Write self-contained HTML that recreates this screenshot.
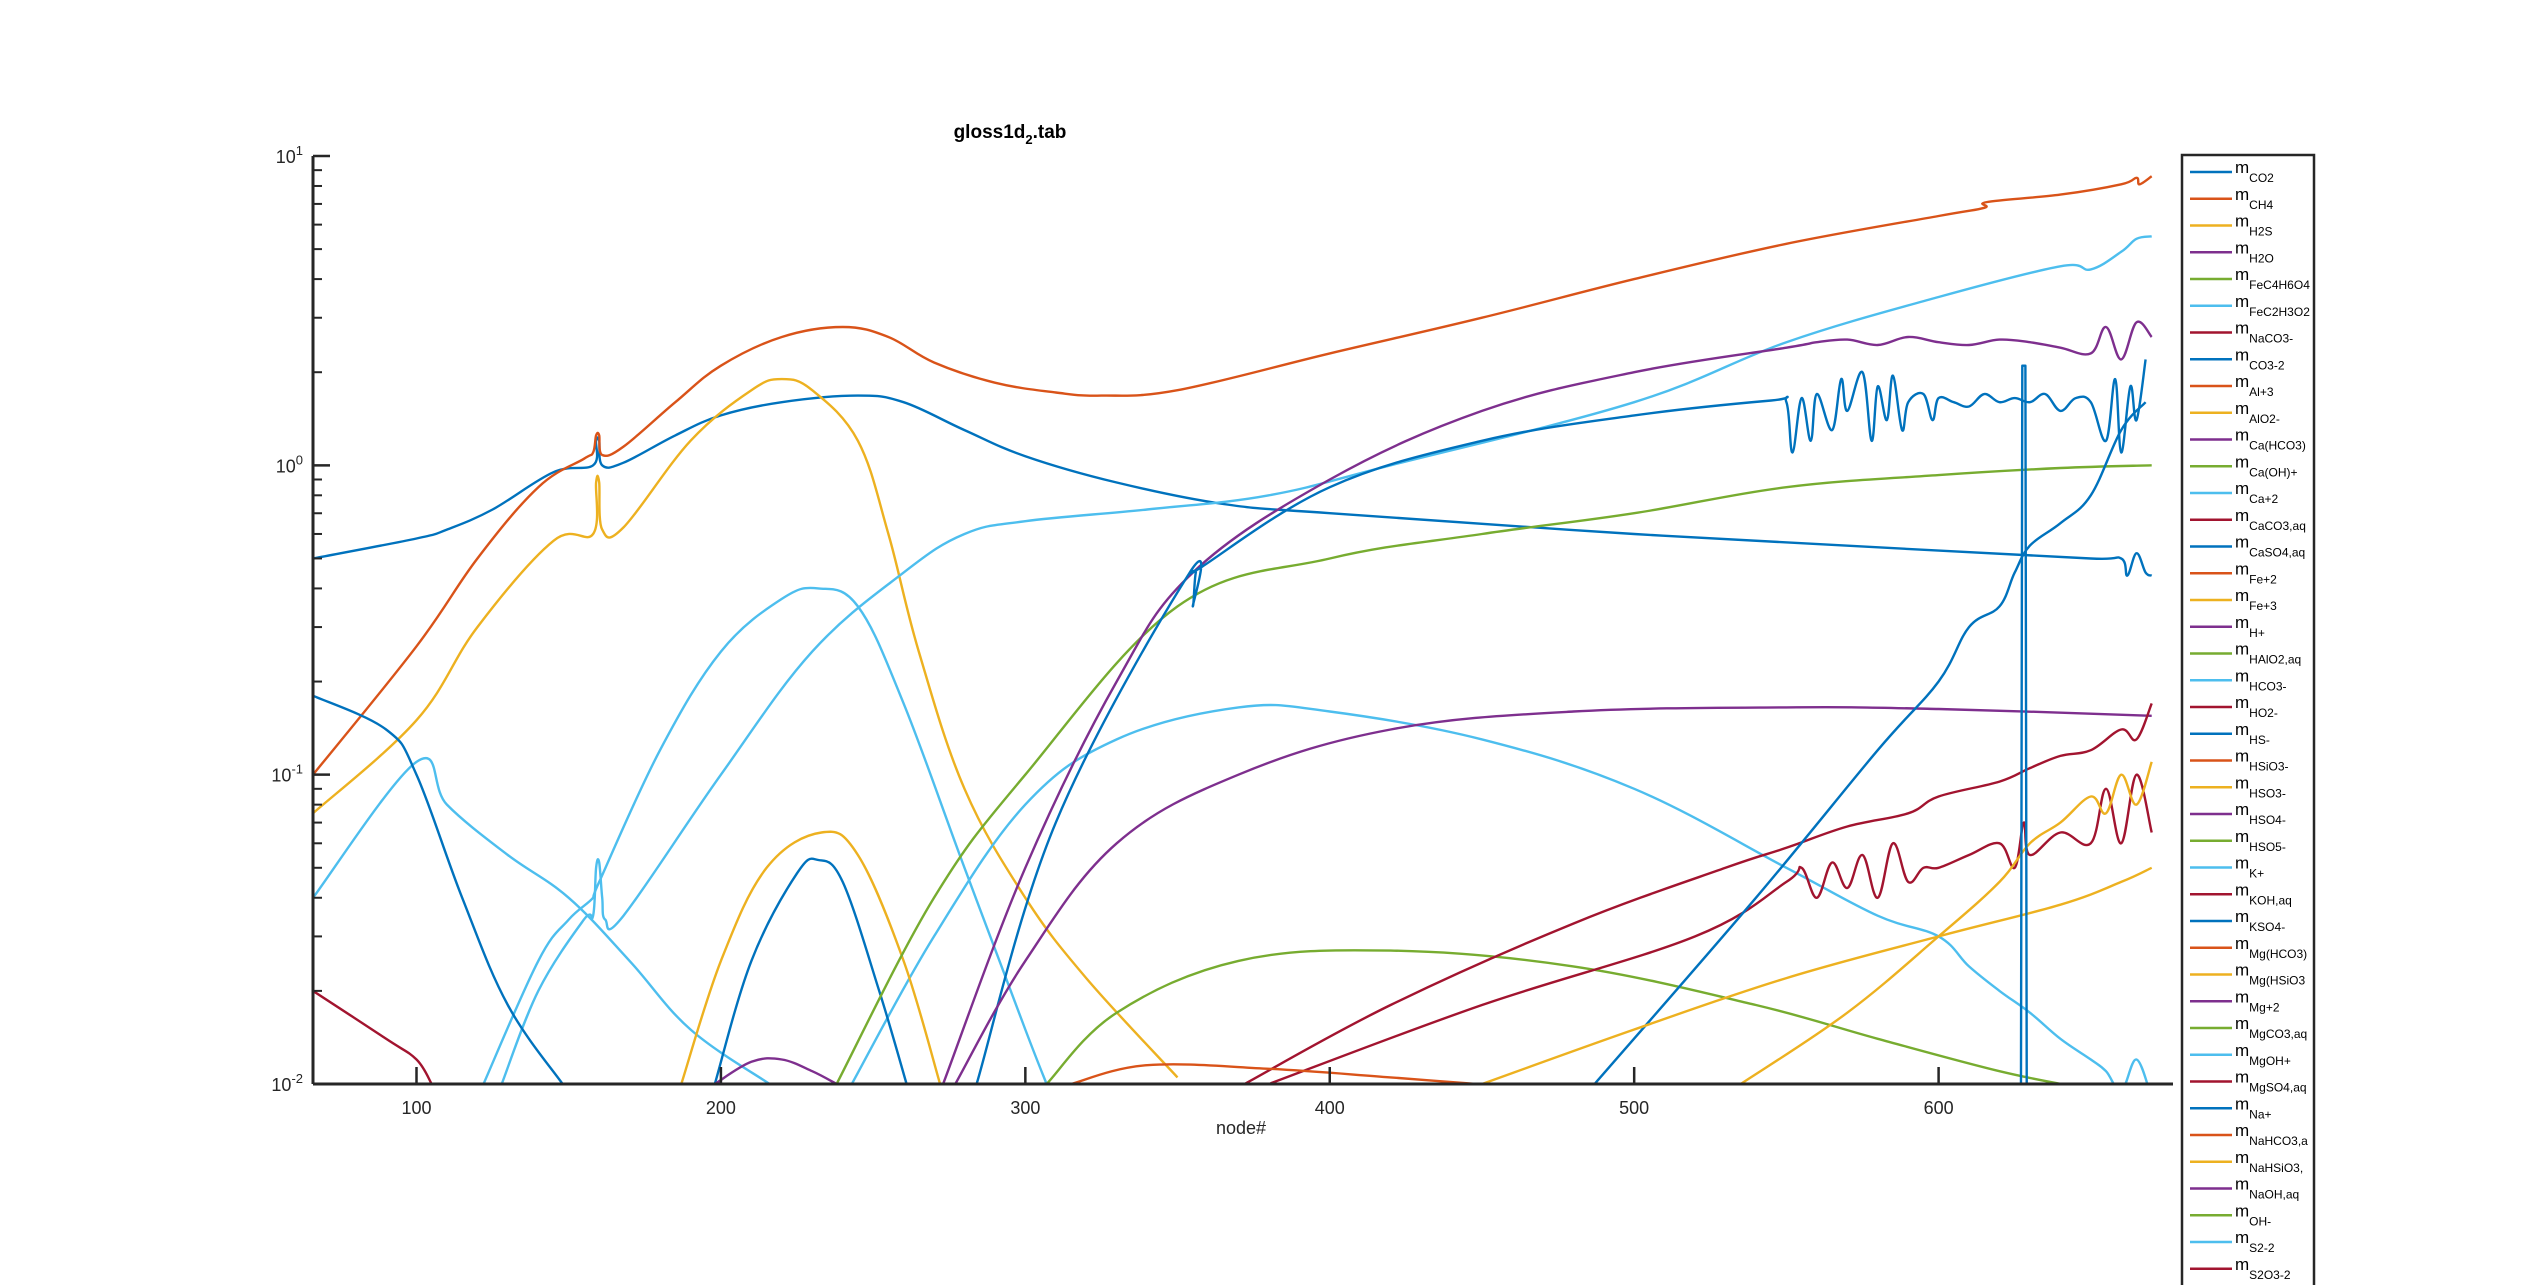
<!DOCTYPE html>
<html><head><meta charset="utf-8"><style>
html,body{margin:0;padding:0;background:#fff}
svg{display:block;font-family:"Liberation Sans",Arial,sans-serif}
</style></head><body>
<svg id="chart" width="2542" height="1285" viewBox="0 0 2542 1285" xmlns="http://www.w3.org/2000/svg">
<rect width="2542" height="1285" fill="#fff"/>
<defs><clipPath id="plotclip"><rect x="313" y="156" width="1860" height="929"/></clipPath></defs>
<text x="1010" y="138" font-size="19" font-weight="bold" text-anchor="middle" fill="#000">gloss1d<tspan font-size="13" dy="6">2</tspan><tspan dy="-6">.tab</tspan></text>
<g id="series" clip-path="url(#plotclip)"></g>
<g id="axes"></g>
<text x="1241" y="1134" font-size="18" text-anchor="middle" fill="#262626">node#</text>
<g id="legend"></g>
</svg>
<script>
const NS="http://www.w3.org/2000/svg";
const xTicks=[100,200,300,400,500,600];
const yDecades=[-2,-1,0,1];
const C=["#0072BD","#D95319","#EDB120","#7E2F8E","#77AC30","#4DBEEE","#A2142F"];

const ch4X=[66,100,120,140,155,158,159,160,161,168,185,200,220,240,255,270,290,310,325,350,400,450,500,550,600,615,616,640,660,665,666,670];
const ch4Y=[0.1,0.26,0.5,0.85,1.05,1.1,1.25,1.25,1.08,1.15,1.6,2.1,2.6,2.8,2.6,2.15,1.85,1.72,1.68,1.75,2.3,3.0,4.0,5.2,6.4,6.8,7.1,7.5,8.1,8.5,8.1,8.6];
const co2X=[66,100,110,125,145,158,159,160,161,168,185,200,220,245,260,280,300,330,365,400,500,600,650,660,662,665,668,670];
const co2Y=[0.5,0.58,0.62,0.72,0.95,1.0,1.2,1.2,1.0,1.02,1.25,1.45,1.6,1.68,1.6,1.3,1.07,0.88,0.75,0.7,0.6,0.53,0.5,0.5,0.44,0.52,0.45,0.44];
const h2sX=[66,100,120,145,158,159,160,161,168,190,210,220,230,245,255,265,280,300,320,350];
const h2sY=[0.075,0.15,0.3,0.57,0.6,0.88,0.88,0.62,0.63,1.2,1.75,1.9,1.75,1.2,0.6,0.25,0.09,0.04,0.022,0.0105];
const lb1X=[128,140,155,158,159,160,161,162,168,200,230,260,280,300,340,380,420,500,550,600,640,650,660,665,670];
const lb1Y=[0.01,0.02,0.034,0.035,0.05,0.052,0.04,0.034,0.035,0.1,0.25,0.45,0.6,0.66,0.72,0.8,1.0,1.6,2.5,3.5,4.4,4.3,4.9,5.4,5.5];
const lb2X=[66,100,110,130,150,170,190,216];
const lb2Y=[0.04,0.11,0.08,0.055,0.04,0.025,0.015,0.01];
const lb3X=[122,140,150,158,160,180,200,220,232,245,260,280,300,307];
const lb3Y=[0.01,0.025,0.034,0.04,0.045,0.12,0.25,0.37,0.4,0.35,0.17,0.05,0.015,0.01];
const lb4X=[243,270,300,330,370,400,450,500,550,580,600,610,620,630,640,650,655,660,665,670];
const lb4Y=[0.01,0.03,0.08,0.13,0.165,0.16,0.13,0.09,0.05,0.035,0.03,0.024,0.02,0.017,0.014,0.012,0.011,0.0095,0.012,0.009];
const co3X=[66,90,100,115,130,148];
const co3Y=[0.18,0.14,0.1,0.04,0.018,0.01];
const y2X=[187,200,215,233,245,260,272];
const y2Y=[0.01,0.025,0.05,0.065,0.055,0.025,0.01];
const b2X=[198,210,225,232,240,252,261];
const b2Y=[0.01,0.025,0.048,0.053,0.045,0.02,0.01];
const g1X=[238,270,300,350,400,450,500,550,600,640,670];
const g1Y=[0.01,0.04,0.1,0.35,0.5,0.6,0.7,0.85,0.93,0.98,1.0];
const g2X=[307,330,370,420,480,540,580,620,645];
const g2Y=[0.01,0.017,0.025,0.027,0.024,0.018,0.014,0.011,0.0098];
const p1X=[273,300,330,355,400,450,500,550,560,570,580,590,600,610,620,630,640,650,655,660,665,670];
const p1Y=[0.01,0.05,0.2,0.45,0.9,1.5,2.0,2.4,2.5,2.55,2.45,2.6,2.5,2.45,2.55,2.5,2.4,2.3,2.8,2.2,2.9,2.6];
const b3X=[284,310,354,355,356,358,400,450,500,545,550,552,555,558,560,565,568,570,575,578,580,583,585,588,590,595,598,600,605,610,615,620,625,630,635,640,645,650,655,658,660,663,665,668];
const b3Y=[0.01,0.07,0.45,0.35,0.45,0.47,0.85,1.2,1.45,1.62,1.6,1.1,1.65,1.2,1.7,1.3,1.9,1.5,2.0,1.2,1.8,1.4,1.95,1.3,1.6,1.7,1.4,1.65,1.6,1.55,1.7,1.6,1.65,1.6,1.7,1.5,1.65,1.6,1.2,1.9,1.1,1.8,1.4,2.2];
const p2X=[277,300,330,370,420,480,550,600,670];
const p2Y=[0.01,0.025,0.06,0.1,0.14,0.16,0.165,0.163,0.155];
const p3X=[198,210,220,230,238];
const p3Y=[0.01,0.0118,0.012,0.011,0.01];
const r1X=[66,90,100,105];
const r1Y=[0.02,0.014,0.012,0.01];
const r2X=[372,420,480,530,550,570,590,600,620,630,640,650,660,665,670];
const r2Y=[0.01,0.018,0.033,0.05,0.058,0.068,0.075,0.085,0.095,0.105,0.115,0.12,0.14,0.13,0.17];
const r3X=[380,450,520,550,555,560,565,570,575,580,585,590,595,600,610,620,625,628,630,640,650,655,660,665,670];
const r3Y=[0.01,0.018,0.03,0.045,0.05,0.04,0.052,0.043,0.055,0.04,0.06,0.045,0.05,0.05,0.055,0.06,0.05,0.07,0.055,0.065,0.06,0.09,0.06,0.1,0.065];
const b4X=[487,540,580,600,610,620,625,630,640,650,660,668];
const b4Y=[0.01,0.04,0.12,0.2,0.3,0.35,0.45,0.55,0.65,0.8,1.3,1.6];
const y3X=[450,500,550,600,640,660,670];
const y3Y=[0.01,0.015,0.022,0.03,0.038,0.045,0.05];
const y4X=[535,570,600,620,630,640,650,655,660,665,670];
const y4Y=[0.01,0.017,0.03,0.045,0.06,0.07,0.085,0.075,0.1,0.08,0.11];
const o2X=[315,340,380,420,460];
const o2Y=[0.01,0.0115,0.0112,0.0105,0.0098];
const spX=[627,627.5,628.5,629];
const spY=[0.005,2.1,2.1,0.005];

const series=[
 {n:'co2',x:co2X,y:co2Y,c:0},{n:'ch4',x:ch4X,y:ch4Y,c:1},{n:'h2s',x:h2sX,y:h2sY,c:2},
 {n:'ca2',x:lb1X,y:lb1Y,c:5},{n:'fec2h3o2',x:lb2X,y:lb2Y,c:5},{n:'hco3',x:lb3X,y:lb3Y,c:5},
 {n:'mgoh',x:lb4X,y:lb4Y,c:5},{n:'co3-2',x:co3X,y:co3Y,c:0},{n:'alo2',x:y2X,y:y2Y,c:2},
 {n:'hs',x:b2X,y:b2Y,c:0},{n:'caoh',x:g1X,y:g1Y,c:4},{n:'hso5',x:g2X,y:g2Y,c:4},
 {n:'cahco3',x:p1X,y:p1Y,c:3},{n:'caso4',x:b3X,y:b3Y,c:0},{n:'h-plus',x:p2X,y:p2Y,c:3},
 {n:'h2o',x:p3X,y:p3Y,c:3},{n:'naco3',x:r1X,y:r1Y,c:6},{n:'ho2',x:r2X,y:r2Y,c:6},
 {n:'koh',x:r3X,y:r3Y,c:6},{n:'na-plus',x:b4X,y:b4Y,c:0},{n:'fe3',x:y3X,y:y3Y,c:2},
 {n:'hso3',x:y4X,y:y4Y,c:2},{n:'al3',x:o2X,y:o2Y,c:1},{n:'kso4-spike',x:spX,y:spY,c:0,straight:true}
];
const legendNames=["CO2","CH4","H2S","H2O","FeC4H6O4","FeC2H3O2","NaCO3-","CO3-2","Al+3","AlO2-","Ca(HCO3)","Ca(OH)+","Ca+2","CaCO3,aq","CaSO4,aq","Fe+2","Fe+3","H+","HAlO2,aq","HCO3-","HO2-","HS-","HSiO3-","HSO3-","HSO4-","HSO5-","K+","KOH,aq","KSO4-","Mg(HCO3)","Mg(HSiO3","Mg+2","MgCO3,aq","MgOH+","MgSO4,aq","Na+","NaHCO3,a","NaHSiO3,","NaOH,aq","OH-","S2-2","S2O3-2","SO4-2"];

const X0=313,X1=2173,Y0=1084,Y1=156,XMIN=66,XMAX=677,LMIN=-2,LMAX=1;
const sx=v=>X0+(v-XMIN)/(XMAX-XMIN)*(X1-X0);
const sy=v=>Y0-(Math.log10(v)-LMIN)/(LMAX-LMIN)*(Y0-Y1);

function smoothPath(pts){
 if(pts.length<3) return 'M'+pts.map(p=>p[0].toFixed(1)+','+p[1].toFixed(1)).join('L');
 let d='M'+pts[0][0].toFixed(1)+','+pts[0][1].toFixed(1);
 const t=0.18;
 for(let i=0;i<pts.length-1;i++){
  const p0=pts[Math.max(0,i-1)],p1=pts[i],p2=pts[i+1],p3=pts[Math.min(pts.length-1,i+2)];
  const c1=[p1[0]+(p2[0]-p0[0])*t,p1[1]+(p2[1]-p0[1])*t];
  const c2=[p2[0]-(p3[0]-p1[0])*t,p2[1]-(p3[1]-p1[1])*t];
  d+='C'+c1[0].toFixed(1)+','+c1[1].toFixed(1)+' '+c2[0].toFixed(1)+','+c2[1].toFixed(1)+' '+p2[0].toFixed(1)+','+p2[1].toFixed(1);
 }
 return d;
}

const gS=document.getElementById('series');
series.forEach(s=>{
 const pts=s.x.map((xv,i)=>[sx(xv),sy(s.y[i])]);
 const p=document.createElementNS(NS,'path');
 p.setAttribute('d',s.straight?'M'+pts.map(q=>q[0].toFixed(1)+','+q[1].toFixed(1)).join('L'):smoothPath(pts));
 p.setAttribute('fill','none');p.setAttribute('stroke',C[s.c]);p.setAttribute('stroke-width','2.4');
 p.setAttribute('stroke-linejoin','round');
 
 
 gS.appendChild(p);
});

const gA=document.getElementById('axes');
function el(t,a,parent){const e=document.createElementNS(NS,t);for(const k in a)e.setAttribute(k,a[k]);(parent||gA).appendChild(e);return e;}
const ax=el('line',{x1:X0,y1:Y0,x2:X1,y2:Y0,stroke:'#262626','stroke-width':3});


const ay=el('line',{x1:X0,y1:Y0,x2:X0,y2:Y1,stroke:'#262626','stroke-width':3});


xTicks.forEach(t=>{
 el('line',{x1:sx(t),y1:Y0,x2:sx(t),y2:Y0-17,stroke:'#262626','stroke-width':2.5});
 const tx=el('text',{x:sx(t),y:Y0+30,'font-size':18,'text-anchor':'middle',fill:'#262626'});
 tx.textContent=t;
 
 
});
yDecades.forEach(d=>{
 const y=sy(Math.pow(10,d));
 el('line',{x1:X0,y1:y,x2:X0+17,y2:y,stroke:'#262626','stroke-width':2.5});
 const tx=el('text',{x:X0-10,y:y+7,'font-size':18,'text-anchor':'end',fill:'#262626'});
 tx.innerHTML='10<tspan font-size="13" dy="-8">'+d+'</tspan>';
 
 
 if(d<1){for(let m=2;m<10;m++){const ym=sy(m*Math.pow(10,d));el('line',{x1:X0,y1:ym,x2:X0+9,y2:ym,stroke:'#262626','stroke-width':2});}}
});

const gL=document.getElementById('legend');
const box=el('rect',{x:2182,y:155,width:132,height:1140,fill:'#fff',stroke:'#262626','stroke-width':2.5},gL);


legendNames.forEach((nm,i)=>{
 const y=172+i*26.75;
 const g=el('g',{},gL);
 
 
 el('line',{x1:2190,y1:y,x2:2232,y2:y,stroke:C[i%7],'stroke-width':2.5},g);
 const t=el('text',{x:2235,y:y+1,'font-size':17,fill:'#000'},g);
 t.innerHTML='m<tspan font-size="12" dy="9">'+nm.replace(/&/g,'&amp;')+'</tspan>';
});
</script>
</body></html>
